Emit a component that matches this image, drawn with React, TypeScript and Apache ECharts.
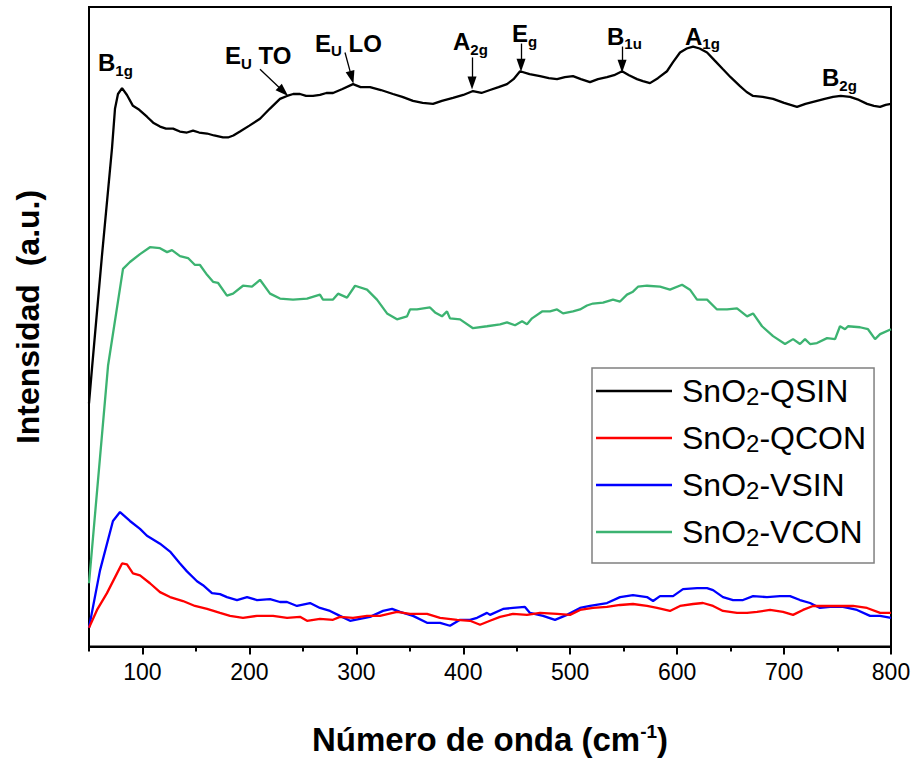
import React, { useEffect, useRef } from 'react';
import * as echarts from 'echarts';

// Raman spectra: [wavenumber (cm-1), intensity (a.u.)]
const QSIN: [number, number][] = [
  [50,246],[53,284],[62,394],[71.5,504],[74.3,544],[77.1,559],[80.9,565],[85.5,558],[91.1,547],[97,543],[104.2,536],[110,530],[116.4,526],[122,524],[128.6,524],[135,521],[141.6,520],[147.3,522],[153,520],[160.4,519],[167,517],[175.3,515],[180,515],[185,517],[191.2,521],[200,527],[209.9,534],[219,544],[228.6,554],[235.2,557],[241,559],[247.3,559],[253,557],[259.5,557],[266,558],[272,560],[278.2,560],[287,564],[296.9,569],[304,566],[312.8,566],[323,563],[334.3,559],[343,556],[353,552],[362,550],[371.7,549],[380,552],[390.4,555],[400,558],[409.1,562],[417,560],[425,563],[433,566],[440.9,569],[447,574],[453.1,582],[462,579],[471.8,577],[480,575],[487.7,574],[495,576],[502.6,577],[510,574],[518.5,571],[526,574],[534.4,576],[541,578],[548.5,582],[555,578],[562.5,574],[568,572],[574.6,570],[582,575],[590.5,582],[596,591],[602.7,601],[609,605],[614.9,607],[621,605],[628,601],[635,593],[642.9,584],[650,576],[658.8,567],[665,561],[671,557],[680,556],[689.7,554],[700,550],[712.1,546],[720,549],[730.8,552],[738,554],[745.8,556],[753,557],[761.7,556],[770,553],[777.6,549],[784,547],[789.8,546],[795,548],[800,549]
];

const QCON: [number, number][] = [
  [50,19],[57.5,37],[66.8,54],[76.2,74],[80.9,84],[85.5,83],[91.1,74],[97.7,72],[107,64],[116.4,55],[125.8,50],[137.9,46],[149.1,41],[160.4,38],[172.5,34],[181.9,31],[194,29],[207.1,31],[222.1,31],[235.2,29],[247.3,30],[253.9,26],[266,28],[278.2,27],[284.7,30],[296.9,29],[310,31],[322.1,31],[338,35],[350.2,33],[366.1,33],[378.3,29],[394.2,27],[406.3,26],[415.7,22],[425,26],[434.4,30],[446.5,33],[459.6,32],[471.8,34],[487.7,33],[499.8,32],[509.2,37],[521.3,39],[534.4,40],[546.6,42],[558.7,43],[571.8,41],[581.2,39],[593.3,36],[602.7,41],[614.9,43],[624.2,44],[633.6,41],[642.9,36],[656,34],[665.4,34],[674.7,35],[686.9,37],[699,35],[708.4,32],[717.7,37],[727.1,41],[740.2,41],[752.3,41],[764.5,41],[777.6,39],[789.8,34],[800,34]
];

const VSIN: [number, number][] = [
  [50,19],[60.3,77],[72.4,127],[79,136],[88.3,127],[97.7,119],[104.2,112],[116.4,104],[125.8,96],[135.1,84],[141.6,76],[151,66],[156.6,62],[165,54],[172.5,53],[179,50],[188.4,47],[197.8,50],[207.1,47],[219.3,48],[228.6,45],[235.2,45],[244.5,41],[256.7,44],[266,39],[275.4,36],[284.7,31],[294.1,26],[303.4,28],[312.8,30],[325,36],[333.4,38],[340.9,35],[353,31],[366.1,24],[378.3,24],[387.6,21],[397,27],[406.3,27],[412.9,29],[422.2,34],[425,32],[437.2,38],[446.5,39],[457.7,40],[462.4,34],[474.6,31],[485.8,27],[497,32],[509.2,39],[518.5,41],[534.4,44],[546.6,50],[558.7,52],[571.8,50],[577.5,46],[584,51],[596.2,51],[605.5,58],[618.6,59],[628,59],[633.6,57],[642.9,50],[652.3,47],[661.6,47],[671,51],[684,50],[696.2,51],[705.6,51],[714.9,47],[724.3,44],[733.6,39],[743,40],[755.1,40],[768.2,37],[780.4,31],[789.8,31],[800,29]
];

const VCON: [number, number][] = [
  [50,64],[67.8,284],[81.8,382],[88.3,389],[97.7,397],[107,404],[116.4,403],[123,399],[127.6,401],[135.1,395],[142.6,393],[149.1,386],[153.8,386],[160.4,376],[166,369],[170.6,368],[179,355],[184.7,357],[194,365],[202.4,364],[209.9,371],[219.3,357],[228.6,352],[240.8,351],[253.9,352],[266,356],[268.8,351],[278.2,351],[282.9,357],[291.3,353],[298.8,365],[310,361],[319.3,351],[328.7,337],[338,331],[347.4,334],[350.2,341],[356.7,341],[368.9,343],[373.6,338],[380.1,334],[384.8,339],[387.6,332],[397,331],[409.1,322],[422.2,324],[434.4,326],[440.9,328],[448.4,325],[455,329],[459.6,326],[464.3,332],[473.7,339],[481.1,339],[487.7,341],[493.3,337],[502.6,339],[509.2,341],[515.7,345],[521.3,347],[530.7,348],[540,351],[546.6,349],[553.1,356],[558.7,359],[563.4,364],[571.8,365],[584,364],[593.3,361],[604.6,366],[612,361],[618.6,351],[628,351],[637.3,341],[646.7,341],[656,342],[665.4,334],[671,337],[679.4,324],[689.7,314],[700.9,306],[708.4,311],[714.9,306],[719.6,311],[724.3,306],[730.8,307],[740.2,312],[747.7,311],[752.3,324],[757,321],[759.8,324],[771,323],[778.5,321],[785.1,311],[789.8,316],[800,321]
];

const seriesNames = ['SnO2-QSIN', 'SnO2-QCON', 'SnO2-VSIN', 'SnO2-VCON'];
const seriesColors = ['#000000', '#ff0000', '#0000ff', '#3cb371'];

const majorTicks = [100, 200, 300, 400, 500, 600, 700, 800];
const minorTicks = [50, 150, 250, 350, 450, 550, 650, 750];

// Raman mode labels: main letter, subscript, trailing text, anchor (left, middle)
const modeLabels = [
  { main: 'B', sub: '1g', tail: '', at: [58.4, 590.5] },
  { main: 'E', sub: 'U', tail: ' TO', at: [177.2, 597.5] },
  { main: 'E', sub: 'U', tail: ' LO', at: [261.4, 610.5] },
  { main: 'A', sub: '2g', tail: '', at: [390.4, 612] },
  { main: 'E', sub: 'g', tail: '', at: [445.6, 620] },
  { main: 'B', sub: '1u', tail: '', at: [534.4, 617.5] },
  { main: 'A', sub: '1g', tail: '', at: [607.4, 617.5] },
  { main: 'B', sub: '2g', tail: '', at: [735.5, 575.5] },
];

// Arrows: [from, to]
const modeArrows: [number, number][][] = [
  [[209.9, 584], [231.8, 561.5]],
  [[289.4, 601], [295.7, 575.8]],
  [[408.2, 596], [408.2, 570]],
  [[454, 610], [454, 588]],
  [[548.5, 607], [548.5, 587]],
];

const FONT = '"Liberation Sans", Arial, Helvetica, sans-serif';

export default function App() {
  const ref = useRef<HTMLDivElement>(null);
  useEffect(() => {
    if (!ref.current) return;
    const chart = echarts.init(ref.current, null, { renderer: 'svg' });
    const datasets = [QSIN, QCON, VSIN, VCON];
    const series: any[] = datasets.map((d, i) => ({
      name: seriesNames[i],
      type: 'line',
      data: d,
      symbol: 'none',
      showSymbol: false,
      xAxisIndex: 0,
      lineStyle: { color: seriesColors[i], width: 2.3 },
      itemStyle: { color: seriesColors[i] },
      z: i === 0 ? 5 : 4 - i,
    }));
    series[0].markLine = {
      silent: true,
      symbol: ['none', 'triangle'],
      symbolSize: [9, 13],
      label: { show: false },
      itemStyle: { color: '#000' },
      lineStyle: { color: '#000', width: 1.3, type: 'solid' },
      emphasis: { disabled: true },
      data: modeArrows.map(([a, b]) => [{ coord: a }, { coord: b }]),
    };
    series[0].markPoint = {
      silent: true,
      symbol: 'circle',
      symbolSize: 0,
      data: modeLabels.map((m) => ({
        coord: m.at,
        label: {
          show: true,
          position: 'right',
          distance: 0,
          formatter: `{m|${m.main}}{s|${m.sub}}` + (m.tail ? `{m|${m.tail}}` : ''),
          rich: {
            m: { fontFamily: FONT, fontSize: 24, fontWeight: 'bold', color: '#000', lineHeight: 30, verticalAlign: 'middle' },
            s: { fontFamily: FONT, fontSize: 15, fontWeight: 'bold', color: '#000', lineHeight: 14, verticalAlign: 'bottom' },
          },
        },
      })),
    };

    chart.setOption({
      animation: false,
      backgroundColor: '#fff',
      grid: { left: 89, right: 26, top: 7, bottom: 107, show: true, borderColor: '#000', borderWidth: 2, backgroundColor: 'transparent' },
      legend: {
        orient: 'vertical',
        left: 592,
        top: 368,
        data: seriesNames.map((n) => ({ name: n, icon: 'rect' })),
        itemWidth: 76,
        itemHeight: 2.5,
        itemGap: 14,
        padding: [7, 8, 14, 4],
        borderColor: '#808080',
        borderWidth: 1.5,
        selectedMode: false,
        formatter: (name: string) => `{a|SnO}{s|2}{a|${name.slice(4)}}`,
        textStyle: {
          padding: [0, 0, 0, 5],
          rich: {
            a: { fontFamily: FONT, fontSize: 32, color: '#000', lineHeight: 34, verticalAlign: 'middle' },
            s: { fontFamily: FONT, fontSize: 24, color: '#000', lineHeight: 14, verticalAlign: 'bottom' },
          },
        },
      },
      xAxis: [
        {
          type: 'value',
          min: 50,
          max: 800,
          name: '{m|Número de onda (cm}{p|-1}{m|)}',
          nameLocation: 'middle',
          nameGap: 75,
          nameTextStyle: {
            rich: {
              m: { fontFamily: FONT, fontSize: 33, fontWeight: 'bold', color: '#000', lineHeight: 36, verticalAlign: 'middle' },
              p: { fontFamily: FONT, fontSize: 19, fontWeight: 'bold', color: '#000', lineHeight: 16, verticalAlign: 'top' },
            },
          },
          axisLine: { show: true, lineStyle: { color: '#000', width: 2 } },
          axisTick: { show: true, inside: false, length: 8, customValues: majorTicks, lineStyle: { color: '#000', width: 2 } },
          axisLabel: { show: true, customValues: majorTicks, margin: 14, fontFamily: FONT, fontSize: 23, color: '#000' },
          splitLine: { show: false },
        },
        {
          type: 'value',
          min: 50,
          max: 800,
          position: 'bottom',
          axisLine: { show: false },
          axisTick: { show: true, inside: false, length: 5, customValues: minorTicks, lineStyle: { color: '#000', width: 2 } },
          axisLabel: { show: false },
          splitLine: { show: false },
        },
      ],
      yAxis: {
        type: 'value',
        min: 0,
        max: 647,
        axisLine: { show: true, lineStyle: { color: '#000', width: 2 } },
        axisTick: { show: false },
        axisLabel: { show: false },
        splitLine: { show: false },
      },
      graphic: [
        {
          type: 'text',
          x: 28,
          y: 317,
          rotation: Math.PI / 2,
          style: {
            text: 'Intensidad  (a.u.)',
            fontFamily: FONT,
            fontSize: 32,
            fontWeight: 'bold',
            fill: '#000',
            align: 'center',
            verticalAlign: 'middle',
          },
        },
      ],
      series,
    });
    return () => chart.dispose();
  }, []);
  return (
    <div
      ref={ref}
      style={{ position: 'fixed', left: 0, top: 0, width: 917, height: 761, background: '#fff' }}
    />
  );
}
